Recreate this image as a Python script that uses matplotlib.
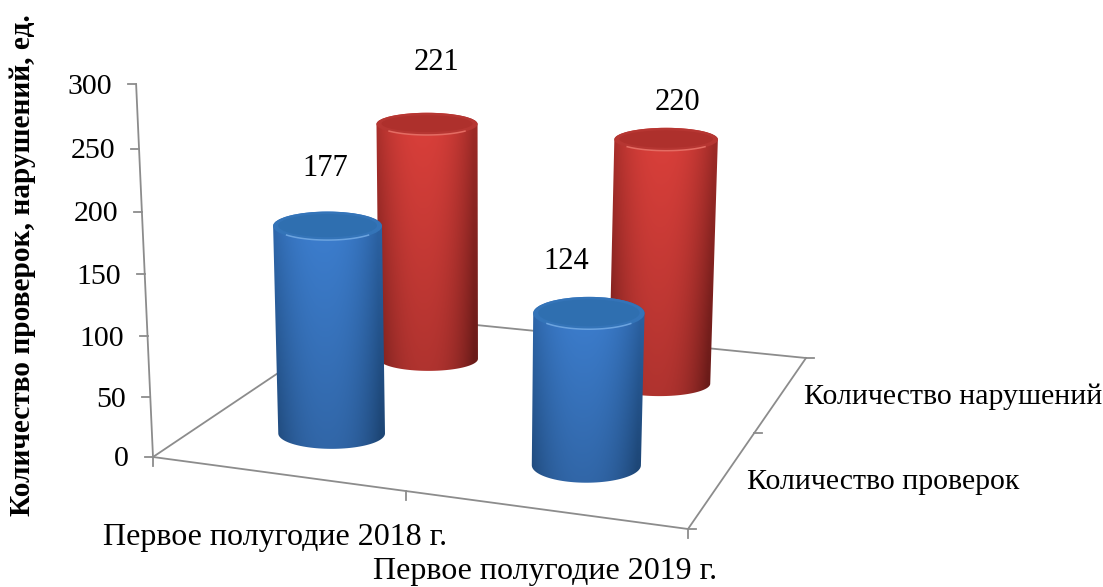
import matplotlib
matplotlib.use("Agg")
import matplotlib.pyplot as plt
import numpy as np
from matplotlib.patches import Ellipse, PathPatch
from matplotlib.path import Path

plt.rcParams["font.family"] = ["Liberation Serif", "DejaVu Serif"]

# data
categories = ["Первое полугодие 2018 г.", "Первое полугодие 2019 г."]
series = ["Количество проверок", "Количество нарушений"]
checks = [177, 124]
violations = [221, 220]
y_ticks = [0, 50, 100, 150, 200, 250, 300]
y_title = "Количество проверок, нарушений, ед."

W, H = 1103, 587
GREY = "#8c8c8c"

# floor corners in picture pixels: (u, v) = (0,0) (2,0) (2,2) (0,2)
src = [(0, 0), (2, 0), (2, 2), (0, 2)]
dst = [(153, 457), (688, 529), (806, 358), (366, 314)]
A = []
b = []
for (u, v), (x, y) in zip(src, dst):
    A.append([u, v, 1, 0, 0, 0, -u * x, -v * x])
    A.append([0, 0, 0, u, v, 1, -u * y, -v * y])
    b += [x, y]
h = np.append(np.linalg.solve(np.array(A, float), np.array(b, float)), 1).reshape(3, 3)


def floor(u, v):
    p = h @ np.array([u, v, 1.0])
    return p[0] / p[2], p[1] / p[2], p[2]


def project(u, v, val):
    # position of a point at height val standing on floor point (u, v)
    x, y, w = floor(u, v)
    depth = 1.0 - 0.065 * v - 0.04 * (2 - u) * v / 2 - 0.02 * (2 - u) / 2
    if (u, v) == (0, 0):
        depth = 1.0
    else:
        depth += 0.017 + 0.06 * max(u - 0.5, 0) * max(1 - v, 0)
    rise = (1.191 * val + 0.000172 * val ** 2) * depth
    return x + (x - 470) * rise / 7000, y - rise


def shade(t, s, base, edge):
    # t: -1..1 across the cylinder, s: 0 top .. 1 bottom
    k = np.clip(np.abs(t + 0.08) ** 2.3, 0, 1) * (0.6 + 0.32 * s)
    img = np.zeros(t.shape + (3,))
    for i in range(3):
        img[..., i] = (base[i] * (1 - k) + edge[i] * k) * (1 - 0.2 * s)
    return img


def cylinder(ax, u, v, val, base, edge, disc, rim, glint):
    x0, y0 = project(u, v, 0)
    x1, y1 = project(u, v, val)
    rx0 = 54.5 * (1 - 0.07 * v) + 1.2 * u
    rx1 = rx0 * 1.02
    ratio = 0.31 - 0.045 * v + 0.03 * (u - 0.5) * (1.5 - v)
    ry0 = rx0 * ratio
    ry1 = rx1 * ratio * 0.92
    z = 3 + (2 - v)

    a = np.linspace(0, np.pi, 60)
    low = np.c_[x0 + rx0 * np.cos(a), y0 + ry0 * np.sin(a)]
    up = np.c_[x1 - rx1 * np.cos(a), y1 - ry1 * np.sin(a)]
    verts = np.vstack([low, up, low[:1]])
    codes = [Path.MOVETO] + [Path.LINETO] * (len(verts) - 2) + [Path.CLOSEPOLY]
    outline = PathPatch(Path(verts, codes), fc="none", ec="none", transform=ax.transData)
    ax.add_patch(outline)

    left, right = min(x0 - rx0, x1 - rx1) - 1, max(x0 + rx0, x1 + rx1) + 1
    top, bot = y1 - ry1 - 1, y0 + ry0 + 1
    gx = np.linspace(left, right, 220)
    gy = np.linspace(top, bot, 300)
    xx, yy = np.meshgrid(gx, gy)
    s = (yy - top) / (bot - top)
    cx = x1 + (x0 - x1) * s
    rr = rx1 + (rx0 - rx1) * s
    img = shade(np.clip((xx - cx) / rr, -1, 1), s, base, edge)
    im = ax.imshow(img, extent=(left, right, bot, top), aspect="auto",
                   interpolation="bilinear", zorder=z)
    im.set_clip_path(outline)

    # top face, bevel and the light glint along its front edge
    ax.add_patch(Ellipse((x1, y1), 2 * rx1, 2 * ry1, fc=rim, ec="none", zorder=z + 0.1))
    ax.add_patch(Ellipse((x1, y1 - 0.5), 2 * rx1 - 10, 2 * ry1 - 6, fc=disc, ec="none", zorder=z + 0.2))
    g = np.radians(np.linspace(40, 140, 40))
    ax.plot(x1 + (rx1 - 1) * np.cos(g), y1 + (ry1 - 0.5) * np.sin(g), color=glint, lw=1.1,
            alpha=0.8, zorder=z + 0.3)


fig = plt.figure(figsize=(W / 100, H / 100), dpi=100)
ax = fig.add_axes([0, 0, 1, 1])
ax.set_xlim(0, W)
ax.set_ylim(H, 0)
ax.axis("off")

# floor outline
corners = [floor(*c)[:2] for c in src]
for i, j in [(0, 1), (1, 2), (2, 3), (3, 0)]:
    ax.plot([corners[i][0], corners[j][0]], [corners[i][1], corners[j][1]],
            color=GREY, lw=1.3, zorder=1)

# value axis
tx = [project(0, 0, t) for t in y_ticks]
ax.plot([p[0] for p in tx], [p[1] for p in tx], color=GREY, lw=1.3, zorder=1)
for t, (x, y) in zip(y_ticks, tx):
    ax.plot([x - 8, x], [y, y], color=GREY, lw=1.3, zorder=1)
    ax.text(x - 24, y + 2.5, str(t), ha="right", va="center", fontsize=21.5, color="black")

# category and series ticks
for u in range(3):
    x, y, _ = floor(u, 0)
    ax.plot([x, x], [y, y + 9], color=GREY, lw=1.3, zorder=1)
for v in range(3):
    x, y, _ = floor(2, v)
    ax.plot([x, x + 8], [y, y], color=GREY, lw=1.3, zorder=1)

cat_pos = [(275.5, 537), (545, 572)]
for name, (x, y) in zip(categories, cat_pos):
    ax.text(x, y, name, ha="center", va="center", fontsize=23, color="black")
ser_pos = [(883, 482), (953, 397)]
for name, (x, y) in zip(series, ser_pos):
    ax.text(x, y, name, ha="center", va="center", fontsize=21.5, color="black")

ax.text(23, 265, y_title, rotation=90, ha="center", va="center",
        fontsize=21.2, fontweight="bold", color="black")

# back row first so the front row overlaps it
blue = dict(base=(0.24, 0.50, 0.82), edge=(0.13, 0.32, 0.54),
            disc="#2f6fb0", rim="#3474b8", glint="#7ab0ea")
red = dict(base=(0.86, 0.25, 0.23), edge=(0.48, 0.12, 0.11),
           disc="#ae302c", rim="#b63632", glint="#f07a70")
for i, val in enumerate(violations):
    cylinder(ax, i + 0.515, 1.46, val, **red)
for i, val in enumerate(checks):
    cylinder(ax, i + 0.512, 0.46, val, **blue)

# value labels
label_shift = {(0, 0): (-2, -58), (1, 0): (-23, -52), (0, 1): (10, -62), (1, 1): (12, -37)}
for j, vals in enumerate([checks, violations]):
    for i, val in enumerate(vals):
        x, y = project(i + 0.512, j + 0.46, val)
        dx, dy = label_shift[(i, j)]
        ax.text(x + dx, y + dy, str(val), ha="center", va="center", fontsize=22,
                color="black", zorder=10)

ax.set_xlim(0, W)
ax.set_ylim(H, 0)
fig.savefig("out.png", dpi=100, facecolor="white")
